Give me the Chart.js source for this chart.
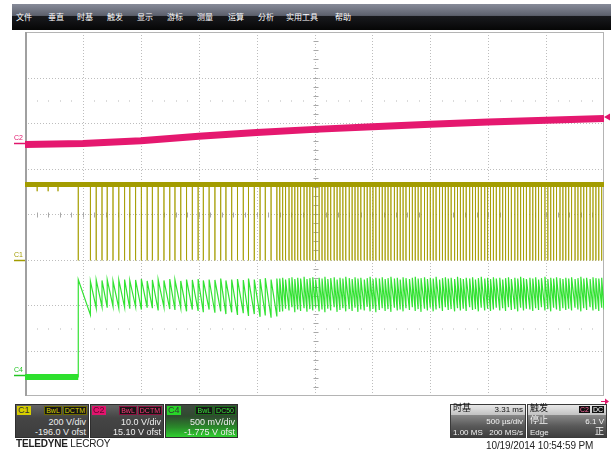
<!DOCTYPE html>
<html>
<head>
<meta charset="utf-8">
<script src="https://cdn.jsdelivr.net/npm/chart.js@4.4.1/dist/chart.umd.min.js"></script>
<style>
  body { margin:0; background:#fff; font-family:"Liberation Sans", Arial, sans-serif; }
  #scope { position:relative; width:611px; height:450px; overflow:hidden; }
  canvas { position:absolute; left:0; top:0; }
  .menu { position:absolute; left:12px; top:4px; width:599px; height:26px;
          background:linear-gradient(#878b99 0%, #5d616d 44%, #18191d 48%, #060606 100%); }
  .menu span { position:absolute; top:8px; color:#fff; font:8px/10px "Noto Sans CJK SC", sans-serif; white-space:nowrap; }
  .chl { position:absolute; left:14px; font:7px/8px "Liberation Sans", Arial, sans-serif; }
  .ch { position:absolute; top:404px; height:34px; box-sizing:border-box; border:1px solid #2e2e2e;
        background:linear-gradient(#646464, #454545 40%, #3d3d3d); color:#eee; }
  .ch .tag { position:absolute; left:1px; top:1px; width:13px; height:9px; padding-left:1px;
             font:9px/9px "Liberation Sans", Arial, sans-serif; color:#333; }
  .ch .flags { position:absolute; right:1px; top:1px; display:flex; }
  .ch .flags span { font:7px/7px "Liberation Sans", Arial, sans-serif; background:#151515; border:1px solid; padding:0 1px; margin-left:1px; }
  .ch .l2, .ch .l3 { position:absolute; right:2px; font:9px/10px "Liberation Sans", Arial, sans-serif; white-space:nowrap; }
  .ch .l2 { top:12px; } .ch .l3 { top:22px; }
  .tp { position:absolute; top:404px; height:34px; box-sizing:border-box; border:1px solid #3a3a3a;
        background:linear-gradient(#9a9a9a 0%, #8a8a8a 30%, #5a5a5a 65%, #3e3e3e 100%); color:#f2f2f2;
        font:8px/10px "Liberation Sans", Arial, sans-serif; }
  .tp .hd { position:absolute; left:0; right:0; top:0; height:10px; background:linear-gradient(#e8e8e8,#c2c2c2); color:#111; }
  .tp .lt { position:absolute; left:2px; white-space:nowrap; }
  .tp .rt { position:absolute; right:2px; white-space:nowrap; }
  .cjk { font-family:"Noto Sans CJK SC", sans-serif; font-size:9px; }
  .logo { position:absolute; left:16px; top:438px; font:10px/12px "Liberation Sans", Arial, sans-serif; color:#222; letter-spacing:-0.2px; }
  .date { position:absolute; left:486px; top:440px; font:10px/11px "Liberation Sans", Arial, sans-serif; color:#222; letter-spacing:-0.1px; }
</style>
</head>
<body>
<div id="scope">
  <canvas id="scopeChart" width="611" height="450"></canvas>

  <div class="menu">
    <span style="left:4px">文件</span><span style="left:36px">垂直</span><span style="left:65px">时基</span>
    <span style="left:95px">触发</span><span style="left:125px">显示</span><span style="left:155px">游标</span>
    <span style="left:185px">测量</span><span style="left:216px">运算</span><span style="left:246px">分析</span>
    <span style="left:274px">实用工具</span><span style="left:323px">帮助</span>
  </div>

  <div class="chl" id="lblC2" style="color:#e0166c">C2</div>
  <div class="chl" id="lblC1" style="color:#a39c00">C1</div>
  <div class="chl" id="lblC4" style="color:#22c422">C4</div>

  <div class="ch" style="left:15px;width:74px">
    <div class="tag" style="background:#d6ce00">C1</div>
    <div class="flags"><span style="color:#d8d000;border-color:#6c6800">BwL</span><span style="color:#d8d000;border-color:#6c6800">DCTM</span></div>
    <div class="l2">200 V/div</div>
    <div class="l3">-196.0 V ofst</div>
  </div>
  <div class="ch" style="left:90px;width:74px">
    <div class="tag" style="background:#e2136e;color:#5a0a2a">C2</div>
    <div class="flags"><span style="color:#ff3a7a;border-color:#8a1040">BwL</span><span style="color:#ff3a7a;border-color:#8a1040">DCTM</span></div>
    <div class="l2">10.0 V/div</div>
    <div class="l3">15.10 V ofst</div>
  </div>
  <div class="ch" style="left:165px;width:73px;background:linear-gradient(#3f4a3f, #2f4a2f 35%, #2a8a2a 70%, #30d030)">
    <div class="tag" style="background:#28d428">C4</div>
    <div class="flags"><span style="color:#3ae03a;border-color:#1a6a1a">BwL</span><span style="color:#3ae03a;border-color:#1a6a1a">DC50</span></div>
    <div class="l2">500 mV/div</div>
    <div class="l3">-1.775 V ofst</div>
  </div>

  <div class="tp" style="left:450px;width:76px">
    <div class="hd"><span class="lt cjk" style="top:-2px">时基</span><span class="rt" style="top:0">3.31 ms</span></div>
    <span class="rt" style="top:12px">500 µs/div</span>
    <span class="lt" style="top:23px">1.00 MS</span><span class="rt" style="top:23px">200 MS/s</span>
  </div>
  <div class="tp" style="left:527px;width:80px">
    <div class="hd"><span class="lt cjk" style="top:-2px">触发</span>
      <span class="rt" style="top:1px;font:7px/8px 'Liberation Sans',Arial,sans-serif"><span style="background:#111;color:#ff6aa0;padding:0 1px">C2</span> <span style="background:#111;color:#fff;padding:0 1px">DC</span></span></div>
    <span class="lt cjk" style="top:10px">停止</span><span class="rt" style="top:12px">6.1 V</span>
    <span class="lt" style="top:23px">Edge</span><span class="rt cjk" style="top:21px">正</span>
  </div>

  <div class="logo"><b>TELEDYNE</b> LECROY</div>
  <div class="date">10/19/2014 10:54:59 PM</div>
</div>

<script>
// screen units: 10 horizontal divisions (500 µs/div), 8 vertical divisions
const c2Time  = [0, 1, 2, 3, 4, 5, 6, 7, 8, 9, 10];
const c2Level = [5.53, 5.55, 5.61, 5.71, 5.79, 5.86, 5.92, 5.97, 6.02, 6.06, 6.10];

const c1High = 4.65;
const c1Low = 2.98;
const c1GlitchTimes = [0.21, 0.40, 0.57];
const c1GlitchLevel = 4.50;

// switching pulses, slow part then the dense part
const pulseTimesA = [0.92, 1.13, 1.23, 1.33, 1.42, 1.52, 1.62, 1.72, 1.81, 1.91, 2.01, 2.11,
  2.20, 2.30, 2.40, 2.50, 2.59, 2.69, 2.79, 2.89, 2.99, 3.08, 3.18, 3.28,
  3.38, 3.47, 3.57, 3.67, 3.77, 3.86, 3.96, 4.06, 4.15, 4.25, 4.35];
const pulseTimesB = [4.40, 4.45, 4.50, 4.56, 4.61, 4.66, 4.71, 4.76, 4.82, 4.87, 4.92, 4.97,
  5.02, 5.08, 5.13, 5.18, 5.23, 5.28, 5.34, 5.39, 5.44, 5.49, 5.54, 5.60,
  5.65, 5.70, 5.75, 5.80, 5.86, 5.91, 5.96, 6.01, 6.06, 6.12, 6.17, 6.22,
  6.27, 6.32, 6.38, 6.43, 6.48, 6.53, 6.58, 6.64, 6.69, 6.74, 6.79, 6.84,
  6.90, 6.95, 7.00, 7.05, 7.10, 7.16, 7.21, 7.26, 7.31, 7.36, 7.42, 7.47,
  7.52, 7.57, 7.62, 7.68, 7.73, 7.78, 7.83, 7.88, 7.94, 7.99, 8.04, 8.09,
  8.14, 8.20, 8.25, 8.30, 8.35, 8.40, 8.46, 8.51, 8.56, 8.61, 8.66, 8.72,
  8.77, 8.82, 8.87, 8.92, 8.98, 9.03, 9.08, 9.13, 9.18, 9.24, 9.29, 9.34,
  9.39, 9.44, 9.50, 9.55, 9.60, 9.65, 9.70, 9.76, 9.81, 9.86, 9.91, 9.96];

const c4Start = 0.42;
const c4PeaksA = [2.56, 2.52, 2.55, 2.54, 2.56, 2.53, 2.55, 2.56, 2.54, 2.55, 2.57, 2.53,
  2.55, 2.56, 2.54, 2.57, 2.55, 2.53, 2.56, 2.55, 2.57, 2.54, 2.56, 2.55,
  2.58, 2.54, 2.56, 2.57, 2.55, 2.58, 2.56, 2.57, 2.59, 2.56, 2.58];
const c4TroughsA = [1.78, 1.93, 1.96, 1.94, 1.97, 1.93, 1.95, 1.92, 1.96, 1.90, 1.94, 1.93,
  1.88, 1.95, 1.91, 1.89, 1.93, 1.86, 1.90, 1.87, 1.84, 1.90, 1.83, 1.86,
  1.80, 1.84, 1.78, 1.82, 1.76, 1.80, 1.74, 1.77, 1.72, 1.75, 1.85];
const c4PeaksB = [2.58, 2.60, 2.56, 2.59, 2.61, 2.57, 2.60, 2.58, 2.62, 2.57, 2.59, 2.61,
  2.56, 2.60, 2.58, 2.62, 2.57, 2.59, 2.61, 2.56, 2.60, 2.58, 2.62, 2.59,
  2.57, 2.61, 2.58, 2.60, 2.56, 2.59, 2.62, 2.57, 2.60, 2.58, 2.61, 2.57,
  2.59, 2.62, 2.58, 2.60, 2.56, 2.61, 2.59, 2.57, 2.60, 2.62, 2.58, 2.59,
  2.61, 2.57, 2.60, 2.58, 2.62, 2.56, 2.59, 2.61, 2.58, 2.60, 2.57, 2.62,
  2.59, 2.57, 2.60, 2.58, 2.61, 2.56, 2.59, 2.62, 2.58, 2.60, 2.57, 2.61,
  2.58, 2.60, 2.56, 2.59, 2.61, 2.57, 2.60, 2.58, 2.62, 2.59, 2.57, 2.60,
  2.58, 2.61, 2.56, 2.59, 2.62, 2.57, 2.60, 2.58, 2.61, 2.59, 2.57, 2.60,
  2.58, 2.61, 2.57, 2.59, 2.62, 2.58, 2.60, 2.57, 2.61, 2.59, 2.58, 2.60];
const c4TroughsB = [1.86, 1.92, 1.88, 1.95, 1.84, 1.90, 1.87, 1.93, 1.85, 1.91, 1.88, 1.94,
  1.86, 1.90, 1.84, 1.92, 1.88, 1.95, 1.85, 1.89, 1.93, 1.86, 1.91, 1.87,
  1.94, 1.85, 1.90, 1.88, 1.96, 1.86, 1.92, 1.84, 1.89, 1.93, 1.87, 1.91,
  1.85, 1.94, 1.88, 1.90, 1.86, 1.93, 1.89, 1.95, 1.87, 1.91, 1.85, 1.92,
  1.88, 1.94, 1.86, 1.90, 1.93, 1.87, 1.95, 1.89, 1.91, 1.86, 1.93, 1.88,
  1.92, 1.87, 1.95, 1.89, 1.91, 1.86, 1.94, 1.88, 1.92, 1.87, 1.90, 1.94,
  1.88, 1.93, 1.87, 1.95, 1.89, 1.91, 1.86, 1.94, 1.88, 1.92, 1.90, 1.87,
  1.93, 1.89, 1.95, 1.88, 1.91, 1.86, 1.94, 1.90, 1.87, 1.93, 1.89, 1.92,
  1.88, 1.94, 1.90, 1.86, 1.93, 1.89, 1.95, 1.88, 1.91, 1.87, 1.94, 1.90];

// ground markers and trigger level, in divisions
const c2Ground = 5.56;
const c1Ground = 2.99;
const c4Ground = 0.46;
const trigLevel = 6.13;

const pulseTimes = pulseTimesA.concat(pulseTimesB);
const c4Peaks = c4PeaksA.concat(c4PeaksB);
const c4Troughs = c4TroughsA.concat(c4TroughsB);

const c2Points = c2Time.map((t, i) => ({ x: t, y: c2Level[i] }));

const c1Points = [{ x: 0, y: c1High }];
c1GlitchTimes.forEach(t => {
  c1Points.push({ x: t, y: c1High }, { x: t, y: c1GlitchLevel }, { x: t, y: c1High });
});
pulseTimes.forEach(t => {
  c1Points.push({ x: t, y: c1High }, { x: t, y: c1Low }, { x: t, y: c1High });
});
c1Points.push({ x: 10, y: c1High });

const c4Points = [{ x: 0, y: c4Start }, { x: pulseTimes[0], y: c4Start }];
pulseTimes.forEach((t, i) => {
  const next = i + 1 < pulseTimes.length ? pulseTimes[i + 1] : 10;
  c4Points.push({ x: t, y: c4Peaks[i] }, { x: next, y: c4Troughs[i] });
});

const trace = (data, color, width) => ({
  data, borderColor: color, borderWidth: width, pointRadius: 0, tension: 0, fill: false
});

const graticule = {
  id: "graticule",
  beforeDatasetsDraw(chart) {
    const { ctx, chartArea: a, scales: { x, y } } = chart;
    const line = (x1, y1, x2, y2) => { ctx.beginPath(); ctx.moveTo(x1, y1); ctx.lineTo(x2, y2); ctx.stroke(); };
    ctx.save();
    ctx.lineWidth = 1;
    ctx.strokeStyle = "#bdbdbd";
    ctx.setLineDash([1, 2]);
    for (let i = 1; i < 10; i++) {
      const px = Math.round(x.getPixelForValue(i)) + 0.5;
      line(px, a.top, px, a.bottom);
    }
    for (let j = 1; j < 8; j++) {
      const py = Math.round(y.getPixelForValue(j)) + 0.5;
      line(a.left, py, a.right, py);
    }
    ctx.setLineDash([]);
    // small ticks on the centre axes
    ctx.strokeStyle = "#a8a8a8";
    const cy = Math.round(y.getPixelForValue(4)) + 0.5;
    const cx = Math.round(x.getPixelForValue(5)) + 0.5;
    for (let k = 1; k < 50; k++) {
      const px = Math.round(x.getPixelForValue(k * 0.2)) + 0.5;
      line(px, cy - 2, px, cy + 3);
    }
    for (let k = 1; k < 40; k++) {
      const py = Math.round(y.getPixelForValue(k * 0.2)) + 0.5;
      line(cx - 2, py, cx + 3, py);
    }
    // faint sub-division dots
    ctx.fillStyle = "#dadada";
    [1.5, 6.5].forEach(v => {
      const py = Math.round(y.getPixelForValue(v));
      for (let k = 1; k < 50; k++) {
        if (k % 5 === 0) continue;
        ctx.fillRect(Math.round(x.getPixelForValue(k * 0.2)), py, 1, 2);
      }
    });
    // frame
    ctx.strokeStyle = "#b4b4b4";
    ctx.strokeRect(a.left + 0.5, a.top + 0.5, a.right - a.left - 1, a.bottom - a.top - 1);
    ctx.strokeStyle = "#a0a0a0";
    ctx.lineWidth = 2;
    line(a.left + 1, a.top, a.left + 1, a.bottom);
    ctx.restore();
  },
  afterDatasetsDraw(chart) {
    const { ctx, chartArea: a, scales: { y } } = chart;
    ctx.save();
    ctx.lineWidth = 1.5;
    [[c2Ground, "#e0166c"], [c1Ground, "#a39c00"], [c4Ground, "#22c422"]].forEach(([g, col]) => {
      const py = Math.round(y.getPixelForValue(g)) + 0.5;
      ctx.strokeStyle = col;
      ctx.beginPath(); ctx.moveTo(a.left - 11, py); ctx.lineTo(a.left, py); ctx.stroke();
    });
    // trigger level arrow on the right edge
    const ty = y.getPixelForValue(trigLevel);
    ctx.fillStyle = "#e0166c";
    ctx.beginPath(); ctx.moveTo(a.right, ty); ctx.lineTo(a.right + 6, ty - 3.5); ctx.lineTo(a.right + 6, ty + 3.5); ctx.closePath(); ctx.fill();
    // trigger position off screen to the right
    ctx.strokeStyle = "#e0166c"; ctx.lineWidth = 1;
    ctx.beginPath(); ctx.moveTo(a.right - 3, a.bottom + 5.5); ctx.lineTo(a.right + 3, a.bottom + 5.5); ctx.stroke();
    ctx.beginPath(); ctx.moveTo(a.right + 5, a.bottom + 5.5); ctx.lineTo(a.right + 1, a.bottom + 2.5); ctx.lineTo(a.right + 1, a.bottom + 8.5); ctx.closePath(); ctx.fill();
    ctx.restore();
  }
};

const ctx = document.getElementById("scopeChart").getContext("2d");
const chart = new Chart(ctx, {
  type: "line",
  data: {
    datasets: [
      trace([{ x: 0, y: c1High }, { x: 10, y: c1High }], "#a39c00", 5),
      trace(c1Points, "rgba(166,158,0,0.85)", 1),
      trace(c2Points, "#e5186f", 7),
      trace([{ x: 0, y: c4Start }, { x: pulseTimes[0], y: c4Start }], "#2ee02e", 6),
      trace(c4Points, "#33e233", 1.2)
    ]
  },
  options: {
    responsive: false,
    devicePixelRatio: 1,
    animation: false,
    layout: { padding: { left: 25, right: 7, top: 32, bottom: 54 } },
    plugins: { legend: { display: false }, tooltip: { enabled: false } },
    scales: {
      x: { type: "linear", min: 0, max: 10, display: false },
      y: { type: "linear", min: 0, max: 8, display: false }
    }
  },
  plugins: [graticule]
});

// place the channel tags next to their ground markers
[["lblC2", c2Ground], ["lblC1", c1Ground], ["lblC4", c4Ground]].forEach(([id, g]) => {
  document.getElementById(id).style.top = (chart.scales.y.getPixelForValue(g) - 9) + "px";
});
</script>
</body>
</html>
